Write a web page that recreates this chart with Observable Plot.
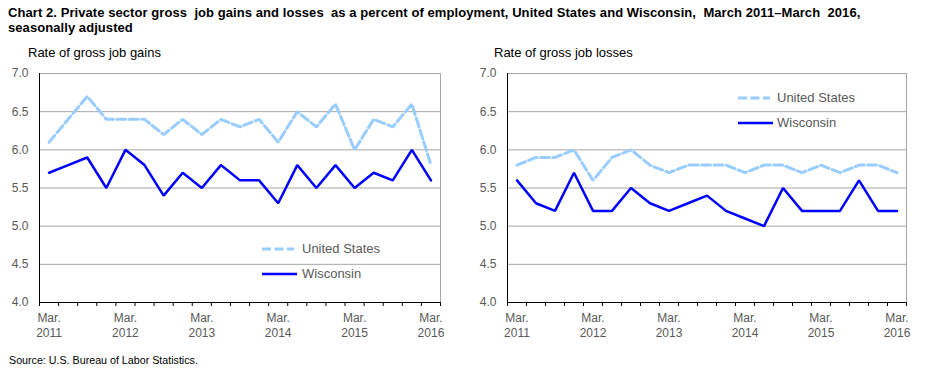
<!DOCTYPE html>
<html><head><meta charset="utf-8">
<script src="https://cdn.jsdelivr.net/npm/d3@7"></script>
<script src="https://cdn.jsdelivr.net/npm/@observablehq/plot@0.6"></script>
<style>
body{margin:0;background:#fff;font-family:Arial,"Liberation Sans",sans-serif;}
#wrap{position:relative;width:930px;height:372px;overflow:hidden;}
#title{position:absolute;left:8px;top:5px;font-weight:bold;font-size:13px;line-height:15px;color:#000;white-space:pre;letter-spacing:0.07px;}
.sub{position:absolute;font-size:13px;line-height:15px;color:#000;white-space:nowrap;}
#source{position:absolute;left:9px;top:353px;font-size:10.7px;line-height:14px;color:#000;}
.panel{position:absolute;top:62px;}
.leg{position:absolute;font-size:13px;line-height:15px;color:#595959;white-space:nowrap;}
.legsw{position:absolute;overflow:visible;}
</style></head><body>
<div id="wrap">
<div id="title">Chart 2. Private sector gross  job gains and losses  as a percent of employment, United States and Wisconsin,  March 2011–March  2016,
seasonally adjusted</div>
<div class="sub" style="left:28px;top:45px;">Rate of gross job gains</div>
<div class="sub" style="left:494px;top:45px;">Rate of gross job losses</div>
<div class="panel" id="p1" style="left:0px;"></div>
<div class="panel" id="p2" style="left:465px;"></div>
<div id="source">Source: U.S. Bureau of Labor Statistics.</div>
</div>
<script>
const quarters = ["Mar 2011","Jun 2011","Sep 2011","Dec 2011","Mar 2012","Jun 2012","Sep 2012","Dec 2012",
  "Mar 2013","Jun 2013","Sep 2013","Dec 2013","Mar 2014","Jun 2014","Sep 2014","Dec 2014",
  "Mar 2015","Jun 2015","Sep 2015","Dec 2015","Mar 2016"];
const usGains  = [6.1,6.4,6.7,6.4,6.4,6.4,6.2,6.4,6.2,6.4,6.3,6.4,6.1,6.5,6.3,6.6,6.0,6.4,6.3,6.6,5.8];
const wiGains  = [5.7,5.8,5.9,5.5,6.0,5.8,5.4,5.7,5.5,5.8,5.6,5.6,5.3,5.8,5.5,5.8,5.5,5.7,5.6,6.0,5.6];
const usLosses = [5.8,5.9,5.9,6.0,5.6,5.9,6.0,5.8,5.7,5.8,5.8,5.8,5.7,5.8,5.8,5.7,5.8,5.7,5.8,5.8,5.7];
const wiLosses = [5.6,5.3,5.2,5.7,5.2,5.2,5.5,5.3,5.2,5.3,5.4,5.2,5.1,5.0,5.5,5.2,5.2,5.2,5.6,5.2,5.2];
const yTicks = [4.0,4.5,5.0,5.5,6.0,6.5,7.0];
const xTickQuarters = ["Mar 2011","Mar 2012","Mar 2013","Mar 2014","Mar 2015","Mar 2016"];
const xTickLabels = ["Mar.\n2011","Mar.\n2012","Mar.\n2013","Mar.\n2014","Mar.\n2015","Mar.\n2016"];
const seriesNames = ["United States","Wisconsin"];

const US_COLOR = "#99ccff", WI_COLOR = "#0000ff", GRID = "#a6a6a6", LABEL = "#595959";

function makePanel(usVals, wiVals, marginLeft, marginRight) {
  const n = quarters.length;
  const rows = quarters.map((q, i) => ({i, q, us: usVals[i], wi: wiVals[i]}));
  const tickIdx = xTickQuarters.map(q => quarters.indexOf(q));
  return Plot.plot({
    width: 465, height: 280,
    marginTop: 11, marginBottom: 40, marginLeft, marginRight,
    style: {fontFamily: "Arial, 'Liberation Sans', sans-serif", fontSize: "12px", background: "#fff"},
    x: {type: "linear", domain: [-0.5, n - 0.5]},
    y: {domain: [yTicks[0], yTicks[yTicks.length - 1]]},
    marks: [
      Plot.ruleY(yTicks.slice(1), {stroke: GRID, strokeWidth: 1}),
      Plot.ruleX([n - 0.5], {stroke: GRID, strokeWidth: 1}),
      Plot.line(rows, {x: "i", y: "us", stroke: US_COLOR, strokeWidth: 3, strokeDasharray: "9,3.5", strokeLinejoin: "miter"}),
      Plot.line(rows, {x: "i", y: "wi", stroke: WI_COLOR, strokeWidth: 2.5, strokeLinejoin: "miter"}),
      Plot.ruleY([yTicks[0]], {stroke: "#000", strokeWidth: 1}),
      Plot.ruleX([-0.5], {stroke: "#000", strokeWidth: 1}),
      Plot.axisX({ticks: d3.range(-0.5, n, 1), tickSize: 4, tickFormat: () => "", stroke: "#000", label: null}),
      Plot.axisX({ticks: tickIdx, tickSize: 0, tickPadding: 10, tickFormat: i => xTickLabels[tickIdx.indexOf(i)], fill: LABEL, fontSize: 12, lineHeight: 1.17, label: null}),
      Plot.axisY({ticks: yTicks, tickSize: 0, tickPadding: 11, tickFormat: d3.format(".1f"), fill: LABEL, fontSize: 12, label: null})
    ]
  });
}

document.getElementById("p1").appendChild(makePanel(usGains, wiGains, 39, 25));
document.getElementById("p2").appendChild(makePanel(usLosses, wiLosses, 42, 24));

// legends (HTML overlays)
function addLegend(x0, x1, yUS, yWI, xText) {
  const wrap = document.getElementById("wrap");
  const items = [
    {name: seriesNames[0], y: yUS, color: US_COLOR, w: 3, dash: "9,3.5", len: x1 - x0},
    {name: seriesNames[1], y: yWI, color: WI_COLOR, w: 2.5, dash: null, len: x1 - x0 + 3}
  ];
  items.forEach(it => {
    const s = document.createElementNS("http://www.w3.org/2000/svg", "svg");
    s.setAttribute("class", "legsw");
    s.setAttribute("width", it.len); s.setAttribute("height", 6);
    s.style.left = x0 + "px"; s.style.top = (it.y - 3) + "px";
    const l = document.createElementNS("http://www.w3.org/2000/svg", "line");
    l.setAttribute("x1", 0); l.setAttribute("x2", it.len);
    l.setAttribute("y1", 3); l.setAttribute("y2", 3);
    l.setAttribute("stroke", it.color); l.setAttribute("stroke-width", it.w);
    if (it.dash) l.setAttribute("stroke-dasharray", it.dash);
    s.appendChild(l); wrap.appendChild(s);
    const t = document.createElement("div");
    t.className = "leg"; t.textContent = it.name;
    t.style.left = xText + "px"; t.style.top = (it.y - 8) + "px";
    wrap.appendChild(t);
  });
}
addLegend(262, 294, 249, 274, 302);
addLegend(738, 770, 98, 123, 777);
</script>
</body></html>
